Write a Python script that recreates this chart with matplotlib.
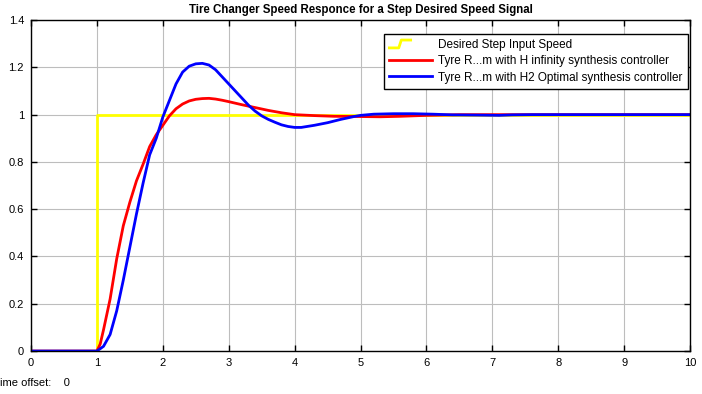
import matplotlib
matplotlib.use('Agg')
import matplotlib.pyplot as plt
from matplotlib.lines import Line2D
from matplotlib.legend_handler import HandlerBase

plt.rcParams['font.family'] = ['Liberation Sans', 'DejaVu Sans']

# 期望的阶跃输入
t_step = [0, 1, 1, 10]
y_step = [0, 0, 1, 1]

# H infinity 控制器响应
t_hinf = [0, 1.0, 1.05, 1.1, 1.2, 1.3, 1.4, 1.5, 1.6, 1.7, 1.8, 1.9, 2.0, 2.1, 2.2, 2.3,
          2.4, 2.5, 2.6, 2.7, 2.8, 2.9, 3.0, 3.2, 3.4, 3.6, 3.8, 4.0, 4.3, 4.6, 5.0,
          5.3, 5.6, 6.0, 6.5, 7.0, 10.0]
y_hinf = [0, 0, 0.03, 0.09, 0.22, 0.39, 0.53, 0.63, 0.72, 0.79, 0.865, 0.915, 0.955,
          0.995, 1.025, 1.045, 1.058, 1.065, 1.068, 1.069, 1.066, 1.061, 1.055, 1.042,
          1.03, 1.018, 1.008, 1.0, 0.996, 0.993, 0.992, 0.991, 0.993, 0.997, 1.0, 1.0, 1.0]

# H2 最优控制器响应
t_h2 = [0, 1.0, 1.1, 1.2, 1.3, 1.4, 1.5, 1.6, 1.7, 1.8, 1.9, 2.0, 2.1, 2.2, 2.3, 2.4,
        2.5, 2.6, 2.7, 2.8, 2.9, 3.0, 3.1, 3.2, 3.3, 3.4, 3.5, 3.6, 3.7, 3.8, 3.9, 4.0,
        4.1, 4.3, 4.5, 4.7, 4.9, 5.0, 5.2, 5.5, 5.8, 6.1, 6.4, 6.8, 7.1, 7.3, 7.6, 10.0]
y_h2 = [0, 0, 0.02, 0.07, 0.17, 0.30, 0.44, 0.58, 0.71, 0.83, 0.90, 0.99, 1.06, 1.13,
        1.18, 1.205, 1.215, 1.217, 1.21, 1.19, 1.16, 1.13, 1.10, 1.07, 1.04, 1.015,
        0.995, 0.98, 0.968, 0.957, 0.95, 0.946, 0.946, 0.955, 0.966, 0.98, 0.992, 0.997,
        1.002, 1.004, 1.004, 1.002, 0.999, 0.998, 0.997, 0.999, 1.0, 1.0]

labels = ['Desired Step Input Speed',
          'Tyre R...m with H infinity synthesis controller',
          'Tyre R...m with H2 Optimal synthesis controller']


class StepHandler(HandlerBase):
    # 图例中的阶跃小图标
    def create_artists(self, legend, orig_handle, xdescent, ydescent, width, height,
                       fontsize, trans):
        x0 = -xdescent
        lo = -ydescent + 0.05 * height
        hi = -ydescent + 1.0 * height
        xs = [x0, x0 + 0.22 * width, x0 + 0.28 * width, x0 + 0.5 * width]
        ys = [lo, lo, hi, hi]
        ln = Line2D(xs, ys, color=orig_handle.get_color(), lw=orig_handle.get_linewidth(),
                    solid_joinstyle='round')
        ln.set_transform(trans)
        return [ln]


fig = plt.figure(figsize=(7.02, 3.94), dpi=100)
ax = fig.add_axes([0.0442, 0.109, 0.9388, 0.840])

l1, = ax.plot(t_step, y_step, color='#ffff00', lw=2)
l2, = ax.plot(t_hinf, y_hinf, color='#ff0000', lw=2)
l3, = ax.plot(t_h2, y_h2, color='#0000ff', lw=2)

ax.set_xlim(0, 10)
ax.set_ylim(0, 1.4)
ax.set_xticks(range(0, 11))
ax.set_yticks([0, 0.2, 0.4, 0.6, 0.8, 1, 1.2, 1.4])
ax.set_yticklabels(['0', '0.2', '0.4', '0.6', '0.8', '1', '1.2', '1.4'])
ax.grid(True, color='#bdbdbd', lw=0.8)
ax.tick_params(direction='in', top=True, right=True, length=4, width=1,
               labelsize=8, pad=5)
for s in ax.spines.values():
    s.set_linewidth(1)

ax.set_title('Tire Changer Speed Responce for a Step Desired Speed Signal',
             fontsize=8.3, fontweight='bold', pad=5)

leg = ax.legend([l1, l2, l3], labels, loc='upper right', bbox_to_anchor=(0.997, 0.958),
                borderaxespad=0, fontsize=8.5, handlelength=3.6, handletextpad=0.55,
                labelspacing=0.35, fancybox=False, framealpha=1, edgecolor='black',
                borderpad=0.45, handler_map={l1: StepHandler()})
leg.get_frame().set_linewidth(1)

fig.text(0.0, 0.028, 'ime offset:    0', fontsize=8, va='center', ha='left')

fig.savefig('out.png', dpi=100)
